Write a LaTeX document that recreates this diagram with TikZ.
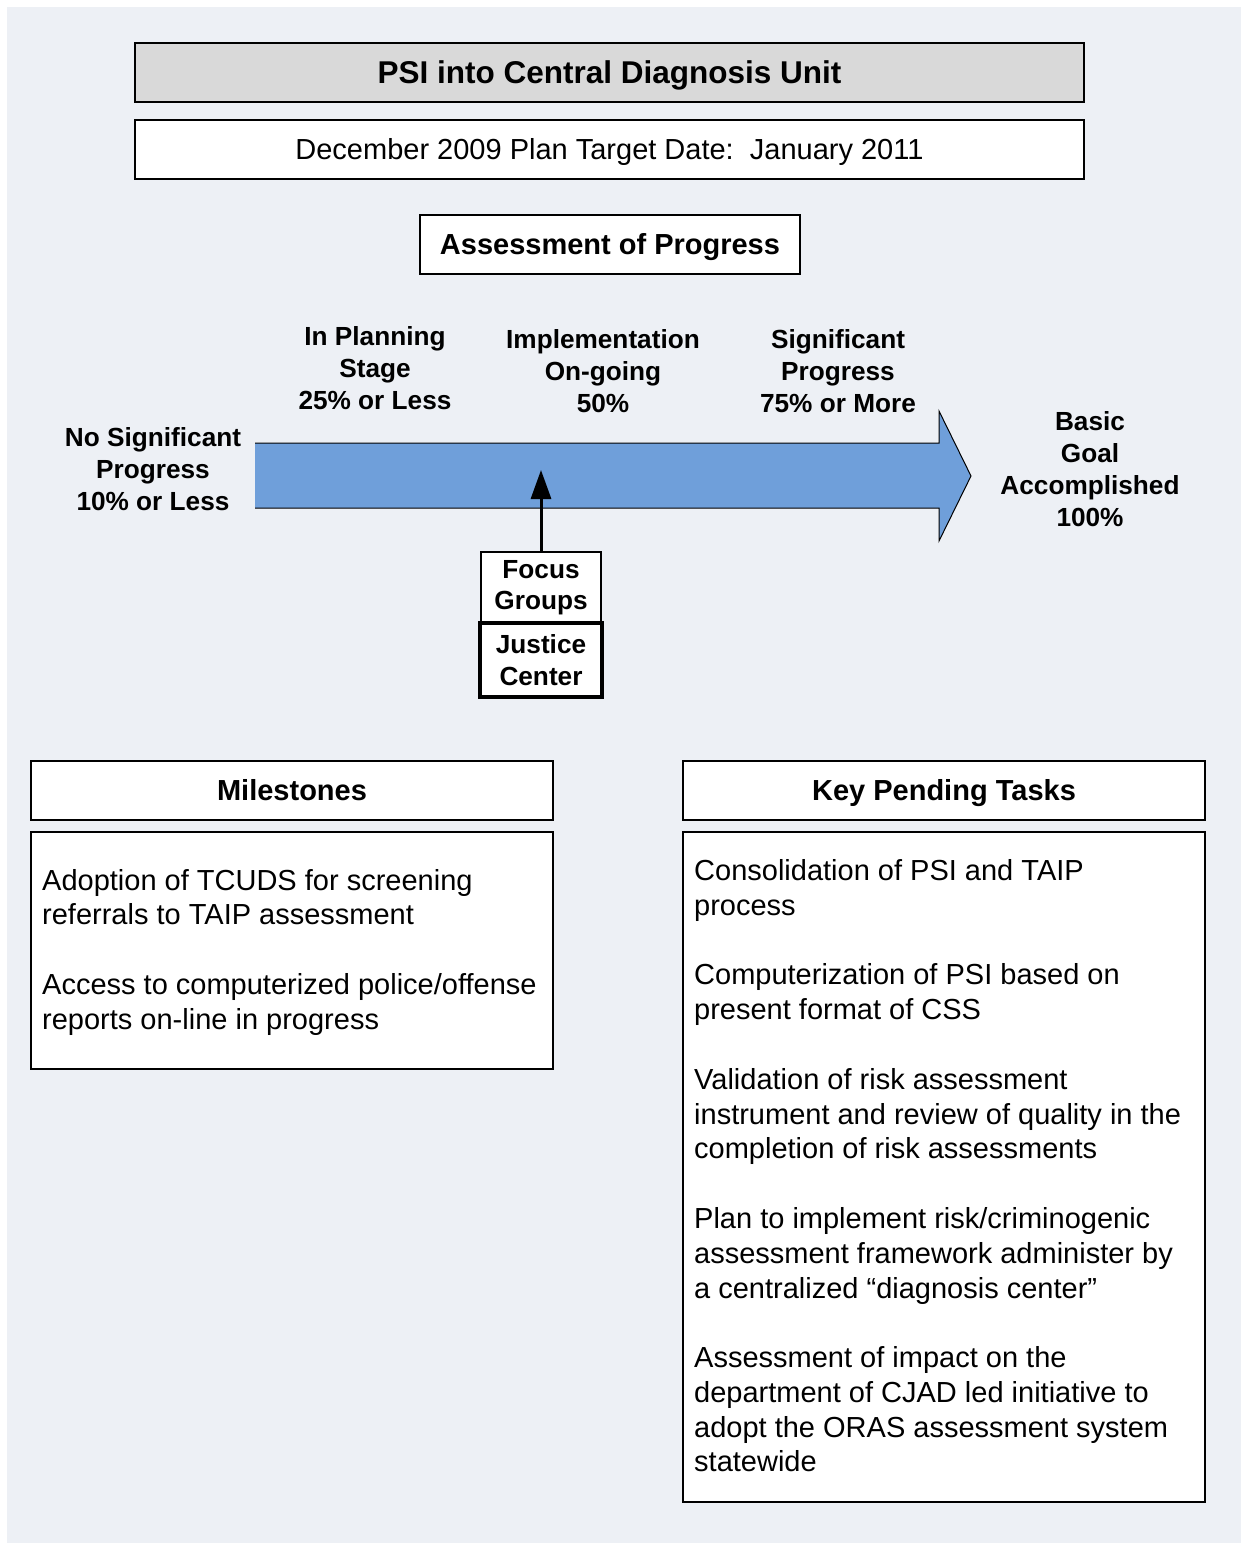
\documentclass[tikz,border=0pt]{standalone}
\usepackage{fontspec}
\setmainfont{Liberation Sans}
\usetikzlibrary{arrows.meta}
\definecolor{pagebg}{RGB}{237,240,245}
\definecolor{headgray}{RGB}{217,217,217}
\definecolor{arrowblue}{RGB}{111,159,218}
\begin{document}
\begin{tikzpicture}[x=1pt,y=-1pt,
  boxed/.style={draw=black, line width=1.8pt, fill=white, inner sep=0pt},
  titlefont/.style={font=\fontsize{31.5}{38}\selectfont\bfseries, text height=28pt, text depth=6pt},
  headfont/.style={font=\fontsize{29}{34}\selectfont\bfseries, text height=26pt, text depth=5.5pt},
  bodyfont/.style={font=\fontsize{29}{34.7}\selectfont},
  linefont/.style={bodyfont, text height=26pt, text depth=6pt},
  stagelabel/.style={font=\fontsize{26.2}{32}\selectfont\bfseries, align=center, inner sep=0pt},
  smallbox/.style={draw=black, fill=white, inner sep=0pt, align=center,
    font=\fontsize{26.2}{31.5}\selectfont\bfseries},
  itemtext/.style={bodyfont, align=left, inner sep=0pt, anchor=west}
]
\useasboundingbox (0,0) rectangle (1241,1543);
\fill[pagebg] (7,7) rectangle (1241,1543);

% heading boxes
\node[boxed, titlefont, fill=headgray, minimum width=949pt, minimum height=59pt] (title) at (609.5,72.5) {PSI into Central Diagnosis Unit};
\node[boxed, linefont, minimum width=949pt, minimum height=59pt] (date) at (609.5,149.5) {December 2009 Plan Target Date:\ \ January 2011};
\node[boxed, headfont, minimum width=380pt, minimum height=59pt] (assess) at (610,244.5) {Assessment of Progress};

% progress arrow
\fill[arrowblue] (255,443) -- (939,443) -- (939,411) -- (971,476) -- (939,541) -- (939,508) -- (255,508) -- cycle;
\draw[line width=1pt, line join=miter] (255,443) -- (939,443) -- (939,411) -- (971,476) -- (939,541) -- (939,508) -- (255,508);

% stage labels
\node[stagelabel] (nosig) at (153,469) {No Significant\\Progress\\10\% or Less};
\node[stagelabel] (plan) at (375,368) {In Planning\\Stage\\25\% or Less};
\node[stagelabel] (impl) at (603,371) {Implementation\\On-going\\50\%};
\node[stagelabel] (sigp) at (838,371) {Significant\\Progress\\75\% or More};
\node[stagelabel] (basic) at (1090,469) {Basic\\Goal\\Accomplished\\100\%};

% current status marker
\node[smallbox, line width=2.2pt, minimum width=120pt, minimum height=71pt] (focus) at (541,587.5) {Focus\\Groups};
\node[smallbox, line width=4.2pt, minimum width=122pt, minimum height=74pt] (justice) at (541,660) {Justice\\Center};
\coordinate (marktip) at (541,470);
\draw[line width=3pt, -{Triangle[length=29pt, width=20pt]}] (focus.north) -- (marktip);

% milestones
\node[boxed, headfont, minimum width=522pt, minimum height=59pt] (mshead) at (292,790.5) {Milestones};
\node[boxed, minimum width=522pt, minimum height=237pt] (msbody) at (292,950.5) {};
\node[itemtext] (ms1) at (42,897) {Adoption of TCUDS for screening\\referrals to TAIP assessment};
\node[itemtext] (ms2) at (42,1004.5) {Access to computerized police/offense\\reports on-line in progress};

% key pending tasks
\node[boxed, headfont, minimum width=522pt, minimum height=59pt] (kthead) at (944,790.5) {Key Pending Tasks};
\node[boxed, minimum width=522pt, minimum height=670pt] (ktbody) at (944,1167) {};
\node[itemtext] (kt1) at (694,890.5) {Consolidation of PSI and TAIP\\process};
\node[itemtext] (kt2) at (694,994.5) {Computerization of PSI based on\\present format of CSS};
\node[itemtext] (kt3) at (694,1116.5) {Validation of risk assessment\\instrument and review of quality in the\\completion of risk assessments};
\node[itemtext] (kt4) at (694,1256) {Plan to implement risk/criminogenic\\assessment framework administer by\\a centralized “diagnosis center”};
\node[itemtext] (kt5) at (694,1409.5) {Assessment of impact on the\\department of CJAD led initiative to\\adopt the ORAS assessment system\\statewide};
\end{tikzpicture}
\end{document}
